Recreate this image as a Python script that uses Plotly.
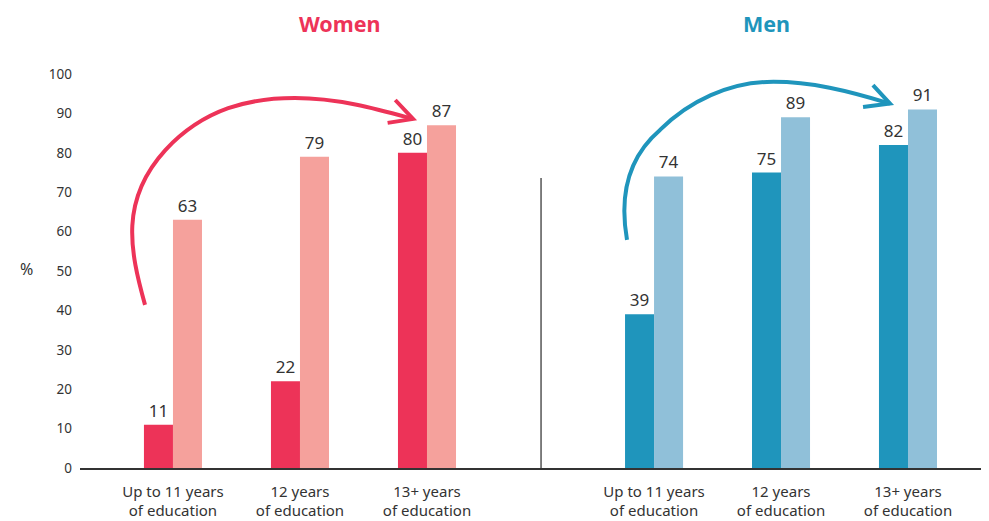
import plotly.graph_objects as go

categories = ["Up to 11 years<br>of education", "12 years<br>of education", "13+ years<br>of education"]
women_dark = [11, 22, 80]
women_light = [63, 79, 87]
men_dark = [39, 75, 82]
men_light = [74, 89, 91]
y_ticks = [0, 10, 20, 30, 40, 50, 60, 70, 80, 90, 100]

W_DARK, W_LIGHT = "#ED3358", "#F5A19C"
M_DARK, M_LIGHT = "#1F95BC", "#90C0D9"
TXT = "#333333"
FONT = "Noto Sans"

pos = [0, 1, 2]

fig = go.Figure()

def add_bars(vals, color, xa, name):
    fig.add_trace(go.Bar(
        x=pos, y=vals, name=name, marker=dict(color=color, line=dict(width=0)),
        text=[str(v) for v in vals], textposition="outside", constraintext="none",
        textfont=dict(size=17, color=TXT, family=FONT), cliponaxis=False,
        xaxis=xa, yaxis="y", hoverinfo="x+y", showlegend=False))

add_bars(women_dark, W_DARK, "x", "Women (dark)")
add_bars(women_light, W_LIGHT, "x", "Women (light)")
add_bars(men_dark, M_DARK, "x2", "Men (dark)")
add_bars(men_light, M_LIGHT, "x2", "Men (light)")

split = 0.5072
xcommon = dict(tickmode="array", tickvals=pos, ticktext=categories, showline=True,
               linecolor="#333333", linewidth=1.5, showgrid=False, zeroline=False,
               ticks="", ticklabelstandoff=9, automargin=False,
               tickfont=dict(size=15, color=TXT, family=FONT), fixedrange=True)

# The page adds an 8px body margin, so the figure is 8px smaller and shifted.
fig.update_layout(
    width=981, height=513,
    margin=dict(l=72, r=0, t=66, b=53, autoexpand=False),
    paper_bgcolor="white", plot_bgcolor="white",
    barmode="group", bargap=0.543, bargroupgap=0,
    font=dict(family=FONT, color=TXT),
    xaxis=dict(domain=[0, split], range=[-0.732, 2.898], anchor="y", **xcommon),
    xaxis2=dict(domain=[split, 1], range=[-0.89, 2.638], anchor="y", **xcommon),
    yaxis=dict(range=[0, 100], tickmode="array", tickvals=y_ticks, showgrid=False,
               zeroline=False, showline=False, ticks="", ticklabelstandoff=7,
               automargin=False,
               tickfont=dict(size=13.5, color=TXT, family=FONT), fixedrange=True),
)

# Titles and axis label
title_y = (394 + 66) / 394  # top edge of the figure
fig.add_annotation(text="<b>Women</b>", x=(298 - 80) / 909, y=title_y, xref="paper", yref="paper",
                   showarrow=False, font=dict(size=21.5, color=W_DARK, family=FONT), yanchor="top",
                   borderpad=0)
fig.add_annotation(text="<b>Men</b>", x=(791 - 80) / 909, y=title_y, xref="paper", yref="paper",
                   showarrow=False, font=dict(size=21.5, color=M_DARK, family=FONT), yanchor="top",
                   borderpad=0)
fig.add_annotation(text="%", x=(18 - 80) / 909, y=50.5, xref="paper", yref="y", showarrow=False,
                   font=dict(size=16, color=TXT, family=FONT))

# Separator line
fig.add_shape(type="line", xref="paper", yref="y", x0=split, x1=split, y0=0, y1=73.6,
              line=dict(color="#555555", width=1.5))

# Curved arrows (data coordinates of each panel)
women_arrow = ("M -0.22,41.4 C -0.34,55.3 -0.42,68.0 -0.06,80.7 "
               "C 0.25,91.4 0.61,93.9 0.96,93.9 C 1.31,93.9 1.63,90.9 1.89,88.6")
women_head = "M 1.75,93.4 L 1.89,88.6 L 1.69,87.6"
men_arrow = ("M -0.213,57.9 C -0.268,68.0 -0.228,78.2 0.047,85.8 "
             "C 0.283,93.4 0.598,97.7 0.890,98.0 C 1.228,98.3 1.543,95.6 1.858,92.5")
men_head = "M 1.724,97.2 L 1.858,92.5 L 1.646,91.6"

for p, c, xr in [(women_arrow, W_DARK, "x"), (women_head, W_DARK, "x"),
                 (men_arrow, M_DARK, "x2"), (men_head, M_DARK, "x2")]:
    fig.add_shape(type="path", path=p, xref=xr, yref="y",
                  line=dict(color=c, width=4), layer="above")

fig.write_html("out.html")
